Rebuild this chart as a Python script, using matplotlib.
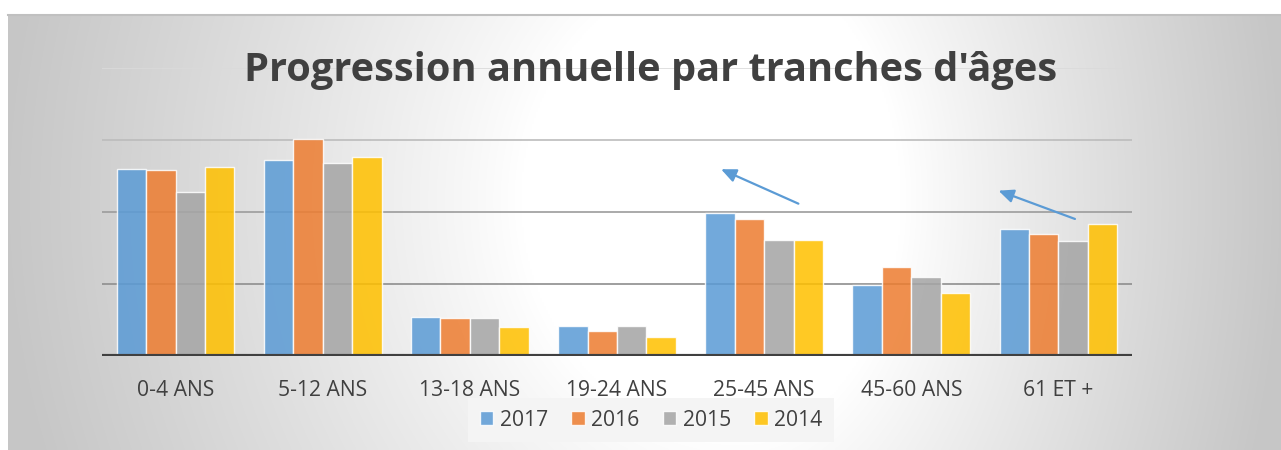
import numpy as np
import matplotlib
matplotlib.use("Agg")
import matplotlib.pyplot as plt

categories = ["0-4 ANS", "5-12 ANS", "13-18 ANS", "19-24 ANS", "25-45 ANS", "45-60 ANS", "61 ET +"]
series_names = ["2017", "2016", "2015", "2014"]
v2017 = [2.60, 2.72, 0.54, 0.42, 1.98, 0.98, 1.76]
v2016 = [2.58, 3.01, 0.53, 0.35, 1.90, 1.23, 1.70]
v2015 = [2.28, 2.68, 0.53, 0.42, 1.61, 1.10, 1.60]
v2014 = [2.63, 2.76, 0.40, 0.26, 1.61, 0.87, 1.83]
title = "Progression annuelle par tranches d'âges"

colors = ["#5b9bd5", "#ed7d31", "#a5a5a5", "#ffc000"]
plt.rcParams['font.family'] = ['Open Sans', 'DejaVu Sans']

W, H = 1281, 450
fig = plt.figure(figsize=(W / 100, H / 100), dpi=100)
fig.patch.set_facecolor("white")

# background gradient (pixel grid of the chart area)
x0, y0 = 8, 14
bg = fig.add_axes([x0 / W, 0, 1 - x0 / W, 1 - y0 / H], zorder=-10)
px = np.linspace(x0, W, 640)
py = np.linspace(y0, H, 220)
PX, PY = np.meshgrid(px, py)
cx, cy = 740.0, 200.0
dx = np.where(PX < cx, (PX - cx) / (cx - x0), (PX - cx) / (W - cx))
dy = (PY - cy) / 800.0
r = np.sqrt(dx ** 2 + dy ** 2)
g = 1 - 0.22 * np.clip((r - 0.3) / 0.7, 0, 1) ** 0.9
bg.imshow(np.dstack([g, g, g]), aspect="auto", extent=[0, 1, 0, 1], origin="upper",
          interpolation="bilinear")
bg.set_xlim(0, 1)
bg.set_ylim(0, 1)
bg.axis("off")
fig.add_artist(plt.Line2D([x0 / W, 1], [1 - 14.5 / H, 1 - 14.5 / H], color="#c0c0c0", lw=1.5))

ax = fig.add_axes([102 / W, 1 - 356 / H, 1030 / W, 288 / H])
ax.set_facecolor("none")
n = len(categories)
x = np.arange(n)
bw = 0.2
series = [v2017, v2016, v2015, v2014]
for i, (vals, c, name) in enumerate(zip(series, colors, series_names)):
    ax.bar(x + (i - 1.5) * bw, vals, bw, color=c, alpha=0.86,
           edgecolor=(1, 1, 1, 0.45), linewidth=1.0, label=name, zorder=3)

grid_cols = {1: "#8e8e8e", 2: "#9c9c9c", 3: "#bcbcbc", 4: "#dadada"}
for lvl, gc in grid_cols.items():
    ax.axhline(lvl, color=gc, lw=1.2, zorder=1)
ax.axhline(0, color="#404040", lw=3, zorder=5)

ax.set_xlim(-0.5, n - 0.5)
ax.set_ylim(0, 4)
ax.set_yticks([])
ax.set_xticks(x)
ax.set_xticklabels(categories, fontsize=15.2, color="#404040")
ax.tick_params(axis="x", length=0, pad=17)
for s in ax.spines.values():
    s.set_visible(False)

# arrows
arrow_kw = dict(arrowstyle="-|>,head_length=0.9,head_width=0.4", color="#5b9bd5", lw=1.6)
ax.annotate("", xy=(3.69, 2.61), xytext=(4.25, 2.10), arrowprops=arrow_kw, annotation_clip=False)
ax.annotate("", xy=(5.575, 2.31), xytext=(6.13, 1.89), arrowprops=arrow_kw, annotation_clip=False)

fig.text(651 / W, 1 - 70 / H, title, ha="center", va="center", fontsize=28.6,
         fontweight="bold", color="#404040")

leg = ax.legend(loc="center", bbox_to_anchor=((651 - 102) / 1030, (356 - 420) / 288),
                ncol=4, frameon=True, fontsize=15.2, handlelength=0.65, handleheight=0.65,
                handletextpad=0.3, columnspacing=1.1, borderpad=0.55)
leg.get_frame().set_facecolor("#f4f4f4")
leg.get_frame().set_edgecolor("none")
leg.get_frame().set_boxstyle("square", pad=0)
leg.get_frame().set_alpha(1)
for t in leg.get_texts():
    t.set_color("#404040")

fig.savefig("out.png", dpi=100)
